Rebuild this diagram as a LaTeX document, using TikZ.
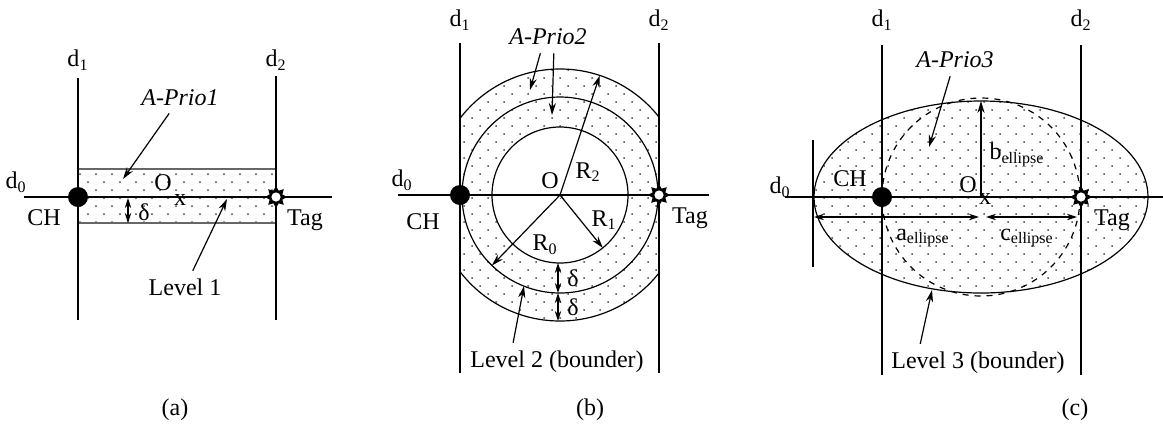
\documentclass[tikz,border=0pt]{standalone}
\usepackage{fontspec}
\setmainfont{Liberation Serif}
\usetikzlibrary{arrows.meta,shapes.geometric,patterns.meta}
\tikzdeclarepattern{
  name=sparsedots,
  type=uncolored,
  bottom left={(-.6pt,-.6pt)},
  top right={(7.6pt,7.6pt)},
  tile size={(8pt,8pt)},
  code={\fill (0,0) circle (0.5pt) (4pt,4pt) circle (0.5pt);}
}
\begin{document}
\begin{tikzpicture}[x=0.5pt, y=-0.5pt,
        axis/.style={line width=1.1pt},
        rim/.style={line width=0.6pt},
        zone/.style={pattern=sparsedots, pattern color=black!75},
        lbl/.style={font=\fontsize{12}{14}\selectfont, inner sep=1pt},
        pointer/.style={-{Stealth[length=6pt,width=3.6pt]}, line width=0.6pt, shorten <=3pt},
        arrow/.style={-{Stealth[length=6pt,width=3.6pt]}, line width=0.6pt},
        dim/.style={{Stealth[length=5pt,width=3.2pt]}-{Stealth[length=5pt,width=3.2pt]}, line width=0.6pt},
        chdot/.style={circle, fill=black, minimum size=10pt, inner sep=0pt},
        tagstar/.style={star, star points=8, star point ratio=1.6, fill=black, minimum size=11pt, inner sep=0pt}
    ]
    \useasboundingbox (0,0) rectangle (1163,430);
    % (a)
    \path[zone] (78,169) rectangle (276,223);
    \draw[rim, black!60] (78,169) -- (276,169) (78,223) -- (276,223);
    \draw[axis] (78,78) -- (78,320);
    \draw[axis] (276,76) -- (276,320);
    \draw[axis] (24,197) -- (332,197);
    \node[chdot] (cha) at (78,197) {};
    \node[tagstar] (taga) at (276,197) {};
    \fill[white] (taga) circle (2.3pt);
    \node[lbl] (d1a) at (78,60) {d\textsubscript{1}};
    \node[lbl] (d2a) at (276,60) {d\textsubscript{2}};
    \node[lbl] (d0a) at (16,182) {d\textsubscript{0}};
    \node[lbl] (cha-l) at (44,218) {CH};
    \node[lbl] (taga-l) at (305,220) {Tag};
    \node[lbl] (oa) at (163,183) {O};
    \node[lbl] (xa) at (180,200) {x};
    \node[lbl] (dela) at (144,212) {δ};
    \node[lbl] (ap1) at (180,98) {\textit{A-Prio1}};
    \node[lbl] (lv1) at (185,287) {Level 1};
    \coordinate (ap1-end) at (123,179);
    \coordinate (lv1-end) at (227,199);
    \coordinate (dela-top) at (128,198);
    \coordinate (dela-bot) at (128,223);
    \draw[pointer] (ap1) -- (ap1-end);
    \draw[pointer] (lv1) -- (lv1-end);
    \draw[dim] (dela-top) -- (dela-bot);
    \node[lbl] (capa) at (175,410) {(a)};
    % (b)
    \begin{scope}
        \clip (461,0) rectangle (659,430);
        \path[zone, even odd rule] (560,195) circle (126) (560,195) circle (68);
        \draw[rim] (560,195) circle (126);
    \end{scope}
    \draw[rim] (560,195) circle (98);
    \draw[rim] (560,195) circle (68);
    \draw[axis] (460,43) -- (460,373);
    \draw[axis] (659,43) -- (659,373);
    \draw[axis] (398,195) -- (709,195);
    \node[chdot] (chb) at (460,195) {};
    \node[tagstar] (tagb) at (659,195) {};
    \fill[white] (tagb) circle (2.3pt);
    \coordinate (ob) at (560,195);
    \path (ob) ++(-71.6:126) coordinate (r2b);
    \path (ob) ++(51:68) coordinate (r1b);
    \path (ob) ++(134:98) coordinate (r0b);
    \draw[arrow] (ob) -- (r2b);
    \draw[arrow] (ob) -- (r1b);
    \draw[arrow] (ob) -- (r0b);
    \node[lbl] (d1b) at (460,20) {d\textsubscript{1}};
    \node[lbl] (d2b) at (659,20) {d\textsubscript{2}};
    \node[lbl] (d0b) at (402,180) {d\textsubscript{0}};
    \node[lbl] (chb-l) at (423,222) {CH};
    \node[lbl] (tagb-l) at (690,218) {Tag};
    \node[lbl] (obl) at (550,181) {O};
    \node[font=\tiny, inner sep=0pt] (xb) at (562,197) {x};
    \node[lbl] (r2l) at (588,172) {R\textsubscript{2}};
    \node[lbl] (r1l) at (604,220) {R\textsubscript{1}};
    \node[lbl] (r0l) at (545,245) {R\textsubscript{0}};
    \coordinate (delb-1) at (558,263);
    \coordinate (delb-2) at (558,293);
    \coordinate (delb-3) at (558,321);
    \draw[dim] (delb-1) -- (delb-2);
    \draw[dim] (delb-2) -- (delb-3);
    \node[lbl] (delb-u) at (573,278) {δ};
    \node[lbl] (delb-d) at (573,307) {δ};
    \node[lbl] (ap2) at (548,37) {\textit{A-Prio2}};
    \coordinate (ap2-out) at (530,90);
    \coordinate (ap2-mid) at (552,115);
    \draw[pointer] (ap2.south) ++(-6,0) coordinate (ap2-s1) -- (ap2-out);
    \draw[pointer] (ap2.south) ++(6,0) coordinate (ap2-s2) -- (ap2-mid);
    \node[lbl] (lv2) at (557,362) {Level 2 (bounder)};
    \coordinate (lv2-end) at (524,286);
    \draw[pointer] (lv2.north west) ++(44,0) coordinate (lv2-s) -- (lv2-end);
    \node[lbl] (capb) at (590,410) {(b)};
    % (c)
    \path[zone] (981,197) ellipse (167 and 96);
    \draw[rim] (981,197) ellipse (167 and 96);
    \draw[rim, dashed] (981,197) circle (99);
    \draw[rim] (813,140) -- (813,267);
    \draw[axis] (882,45) -- (882,375);
    \draw[axis] (1081,45) -- (1081,375);
    \draw[axis] (785,197) -- (1163,197);
    \node[chdot] (chc) at (882,197) {};
    \node[tagstar] (tagc) at (1081,197) {};
    \fill[white] (tagc) circle (2.3pt);
    \coordinate (oc) at (981,197);
    \coordinate (bc) at (981,101);
    \coordinate (ac-l) at (814,217);
    \coordinate (ac-r) at (979,217);
    \coordinate (cc-l) at (986,217);
    \coordinate (cc-r) at (1077,217);
    \draw[arrow] (oc) -- (bc);
    \draw[dim] (ac-l) -- (ac-r);
    \draw[dim] (cc-l) -- (cc-r);
    \node[lbl] (d1c) at (882,20) {d\textsubscript{1}};
    \node[lbl] (d2c) at (1081,20) {d\textsubscript{2}};
    \node[lbl] (d0c) at (780,187) {d\textsubscript{0}};
    \node[lbl] (chc-l) at (850,179) {CH};
    \node[lbl] (tagc-l) at (1112,220) {Tag};
    \node[lbl] (ocl) at (968,185) {O};
    \node[lbl] (xc) at (985,199) {x};
    \node[lbl] (bl) at (1017,155) {b\textsubscript{ellipse}};
    \node[lbl] (al) at (923,238) {a\textsubscript{ellipse}};
    \node[lbl] (cl) at (1027,238) {c\textsubscript{ellipse}};
    \node[lbl] (ap3) at (955,60) {\textit{A-Prio3}};
    \coordinate (ap3-end) at (929,147);
    \draw[pointer] (ap3) -- (ap3-end);
    \node[lbl] (lv3) at (978,363) {Level 3 (bounder)};
    \coordinate (lv3-end) at (932,290);
    \draw[pointer] (lv3.north west) ++(30,0) coordinate (lv3-s) -- (lv3-end);
    \node[lbl] (capc) at (1075,410) {(c)};
\end{tikzpicture}
\end{document}
